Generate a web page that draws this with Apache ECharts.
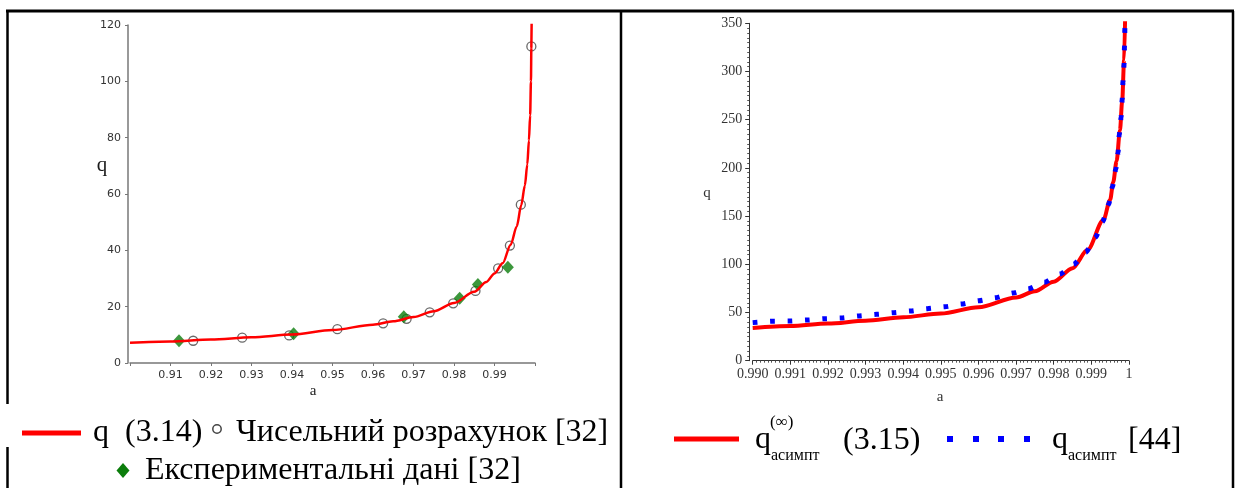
<!DOCTYPE html>
<html>
<head>
<meta charset="utf-8">
<script src="https://cdn.jsdelivr.net/npm/echarts@6/dist/echarts.min.js"></script>
<style>
  html, body { margin: 0; padding: 0; background: #fff; }
  #chart { width: 1235px; height: 488px; }
</style>
</head>
<body>
<div id="chart"></div>
<script>
// left panel: q (3.14), numerical and experimental points
const leftCurveA = [0.9, 0.91, 0.92, 0.93, 0.94, 0.95, 0.96, 0.965, 0.97, 0.975, 0.98, 0.985, 0.988, 0.99, 0.992, 0.994, 0.9955, 0.9966, 0.9975, 0.9981, 0.9985, 0.9988, 0.999, 0.9991, 0.99925];
const leftCurveQ = [7.2, 7.6, 8.3, 9.1, 10.1, 11.7, 13.6, 14.8, 16.3, 18.4, 21.3, 25.3, 28.8, 31.8, 35.4, 42, 48.5, 56, 63, 70.5, 79, 88, 100, 112, 135];
const numA = [0.9156, 0.9277, 0.9393, 0.9512, 0.9625, 0.9683, 0.974, 0.9798, 0.9853, 0.9909, 0.9938, 0.9965, 0.9991];
const numQ = [7.9, 9.0, 9.8, 12.0, 14.1, 15.7, 18.0, 21.2, 25.6, 33.6, 41.7, 56.2, 112.4];
const expA = [0.9121, 0.9404, 0.9676, 0.9814, 0.9859, 0.9933];
const expQ = [7.9, 10.4, 16.4, 23.0, 27.9, 34.0];

// right panel: q asympt (3.15) and [44]
const asA = [0.99, 0.991, 0.992, 0.993, 0.994, 0.995, 0.996, 0.997, 0.9975, 0.998, 0.9985, 0.9989, 0.99932, 0.9995, 0.99958, 0.99967, 0.99976, 0.99982, 0.99987, 0.9999];
const asQ = [34, 36, 38.5, 41.5, 45, 49, 55.5, 65.5, 72, 82, 96, 115, 146, 167, 185, 207, 239, 270, 312, 362];
const refA = [0.99, 0.99053, 0.99099, 0.99145, 0.99192, 0.99238, 0.99282, 0.9933, 0.99375, 0.9942, 0.99464, 0.99511, 0.99555, 0.99601, 0.99647, 0.99691, 0.99734, 0.99775, 0.99817, 0.99854, 0.99885, 0.99911, 0.9993, 0.99946, 0.99956, 0.99965, 0.99971, 0.99974, 0.99979, 0.99982, 0.99984, 0.99987, 0.99988, 0.99989, 0.9999];
const refQ = [39.5, 40.9, 41.2, 42.2, 43.6, 44.3, 46.4, 48.1, 49.8, 51.6, 54.0, 56.0, 58.8, 62.2, 65.4, 70.2, 74.7, 81.3, 89.9, 100.3, 112.4, 128, 144.2, 162.2, 180.5, 198.9, 215.8, 234.1, 252.5, 271.2, 289.4, 307.8, 325.7, 344.1, 362];

const zip = (xs, ys) => xs.map((x, i) => [x, ys[i]]);

const chart = echarts.init(document.getElementById('chart'));

const serif = '"Liberation Serif", "Times New Roman", serif';

function txt(text, x, y, size, extra) {
  return {
    type: 'text', x: x, y: y, z: 10,
    style: Object.assign({
      text: text, fontSize: size, fontFamily: serif, fill: '#000',
      align: 'left', verticalAlign: 'middle'
    }, extra || {})
  };
}
function hline(x1, y1, x2, y2, w) {
  return {
    type: 'line', z: 10,
    shape: {x1: x1, y1: y1, x2: x2, y2: y2},
    style: {stroke: '#000', lineWidth: w || 2.5}
  };
}

const option = {
  backgroundColor: '#fff',
  animation: false,
  grid: [
    {left: 130, top: 25, width: 405, height: 338},
    {left: 752.7, top: 23.3, width: 376.3, height: 337.4}
  ],
  xAxis: [
    {
      type: 'value', gridIndex: 0, min: 0.9, max: 1.0, interval: 0.01,
      splitLine: {show: false},
      axisLine: {lineStyle: {color: '#777', width: 1.5}},
      axisTick: {length: 3, lineStyle: {color: '#777'}},
      axisLabel: {
        margin: 7, color: '#333', fontFamily: 'DejaVu Sans', fontSize: 11,
        formatter: v => (v < 0.905 || v > 0.995) ? '' : v.toFixed(2)
      }
    },
    {
      type: 'value', gridIndex: 1, min: 0.99, max: 1.0, interval: 0.001,
      splitLine: {show: false},
      axisLine: {lineStyle: {color: '#333', width: 1}},
      axisTick: {length: 4, lineStyle: {color: '#333'}},
      minorTick: {show: true, splitNumber: 10, length: 2, lineStyle: {color: '#555'}},
      axisLabel: {
        margin: 7, color: '#333', fontFamily: serif, fontSize: 14,
        formatter: v => v > 0.9995 ? '1' : v.toFixed(3)
      }
    }
  ],
  yAxis: [
    {
      type: 'value', gridIndex: 0, min: 0, max: 120, interval: 20, offset: 2,
      splitLine: {show: false},
      axisLine: {show: true, lineStyle: {color: '#777', width: 1.5}},
      axisTick: {show: true, length: 3, lineStyle: {color: '#777'}},
      axisLabel: {margin: 7, color: '#333', fontFamily: 'DejaVu Sans', fontSize: 11}
    },
    {
      type: 'value', gridIndex: 1, min: 0, max: 350, interval: 50, offset: 3.5,
      splitLine: {show: false},
      axisLine: {show: true, lineStyle: {color: '#333', width: 1}},
      axisTick: {show: true, length: 4, lineStyle: {color: '#333'}},
      minorTick: {show: true, splitNumber: 10, length: 2, lineStyle: {color: '#555'}},
      axisLabel: {margin: 7, color: '#333', fontFamily: serif, fontSize: 14}
    }
  ],
  series: [
    {
      name: 'Чисельний розрахунок [32]', type: 'scatter', xAxisIndex: 0, yAxisIndex: 0,
      data: zip(numA, numQ), symbol: 'circle', symbolSize: 9,
      itemStyle: {color: '#fff', borderColor: '#444', borderWidth: 1.3}
    },
    {
      name: 'Експериментальні дані [32]', type: 'scatter', xAxisIndex: 0, yAxisIndex: 0,
      data: zip(expA, expQ), symbol: 'diamond', symbolSize: [12, 13],
      itemStyle: {color: '#0b7d0b'}
    },
    {
      name: 'q (3.14)', type: 'line', xAxisIndex: 0, yAxisIndex: 0,
      data: zip(leftCurveA, leftCurveQ), symbol: 'none', smooth: 0.3, smoothMonotone: 'x',
      lineStyle: {color: '#ff0000', width: 2.5}
    },
    {
      name: 'q asympt (3.15)', type: 'line', xAxisIndex: 1, yAxisIndex: 1,
      data: zip(asA, asQ), symbol: 'none', smooth: 0.3, smoothMonotone: 'x',
      lineStyle: {color: '#ff0000', width: 4}
    },
    {
      name: 'q asympt [44]', type: 'line', xAxisIndex: 1, yAxisIndex: 1,
      data: zip(refA, refQ), symbol: 'none', smooth: 0.2, smoothMonotone: 'x',
      lineStyle: {color: '#0000ff', width: 5, type: [5, 12.4], cap: 'butt'}
    }
  ],
  graphic: [
    // table borders
    hline(6, 11, 1234, 11, 3),
    hline(7.5, 11, 7.5, 404),
    hline(7.5, 447, 7.5, 488),
    hline(621, 11, 621, 488),
    hline(1233, 11, 1233, 488),

    // axis titles
    txt('q', 102, 165, 21, {align: 'center', fill: '#1a1a1a'}),
    txt('a', 313, 391, 15, {align: 'center', fill: '#1a1a1a'}),
    txt('q', 707, 193, 15, {align: 'center', fill: '#333'}),
    txt('a', 940, 397, 15, {align: 'center', fill: '#333'}),

    // left legend
    {type: 'line', z: 10, shape: {x1: 22, y1: 433, x2: 81, y2: 433}, style: {stroke: '#ff0000', lineWidth: 5}},
    txt('q  (3.14)', 93, 433, 32),
    {type: 'circle', z: 10, shape: {cx: 217, cy: 429, r: 4.2}, style: {fill: '#fff', stroke: '#444', lineWidth: 1.5}},
    txt('Чисельний розрахунок [32]', 236, 433, 32),
    {type: 'polygon', z: 10, shape: {points: [[123, 463], [129.5, 470.5], [123, 478], [116.5, 470.5]]}, style: {fill: '#0b7d0b'}},
    txt('Експериментальні дані [32]', 145, 471, 32),

    // right legend
    {type: 'line', z: 10, shape: {x1: 674, y1: 439, x2: 739, y2: 439}, style: {stroke: '#ff0000', lineWidth: 5}},
    txt('q', 755, 440, 32),
    txt('(∞)', 770, 423, 17),
    txt('асимпт', 771, 456, 16),
    txt('(3.15)', 843, 441, 32),
    {type: 'rect', z: 10, shape: {x: 947, y: 436, width: 6, height: 6}, style: {fill: '#0000ff'}},
    {type: 'rect', z: 10, shape: {x: 973, y: 436, width: 6, height: 6}, style: {fill: '#0000ff'}},
    {type: 'rect', z: 10, shape: {x: 998, y: 436, width: 6, height: 6}, style: {fill: '#0000ff'}},
    {type: 'rect', z: 10, shape: {x: 1024, y: 436, width: 6, height: 6}, style: {fill: '#0000ff'}},
    txt('q', 1052, 440, 32),
    txt('асимпт', 1068, 456, 16),
    txt('[44]', 1128, 441, 32)
  ]
};

chart.setOption(option);
</script>
</body>
</html>
